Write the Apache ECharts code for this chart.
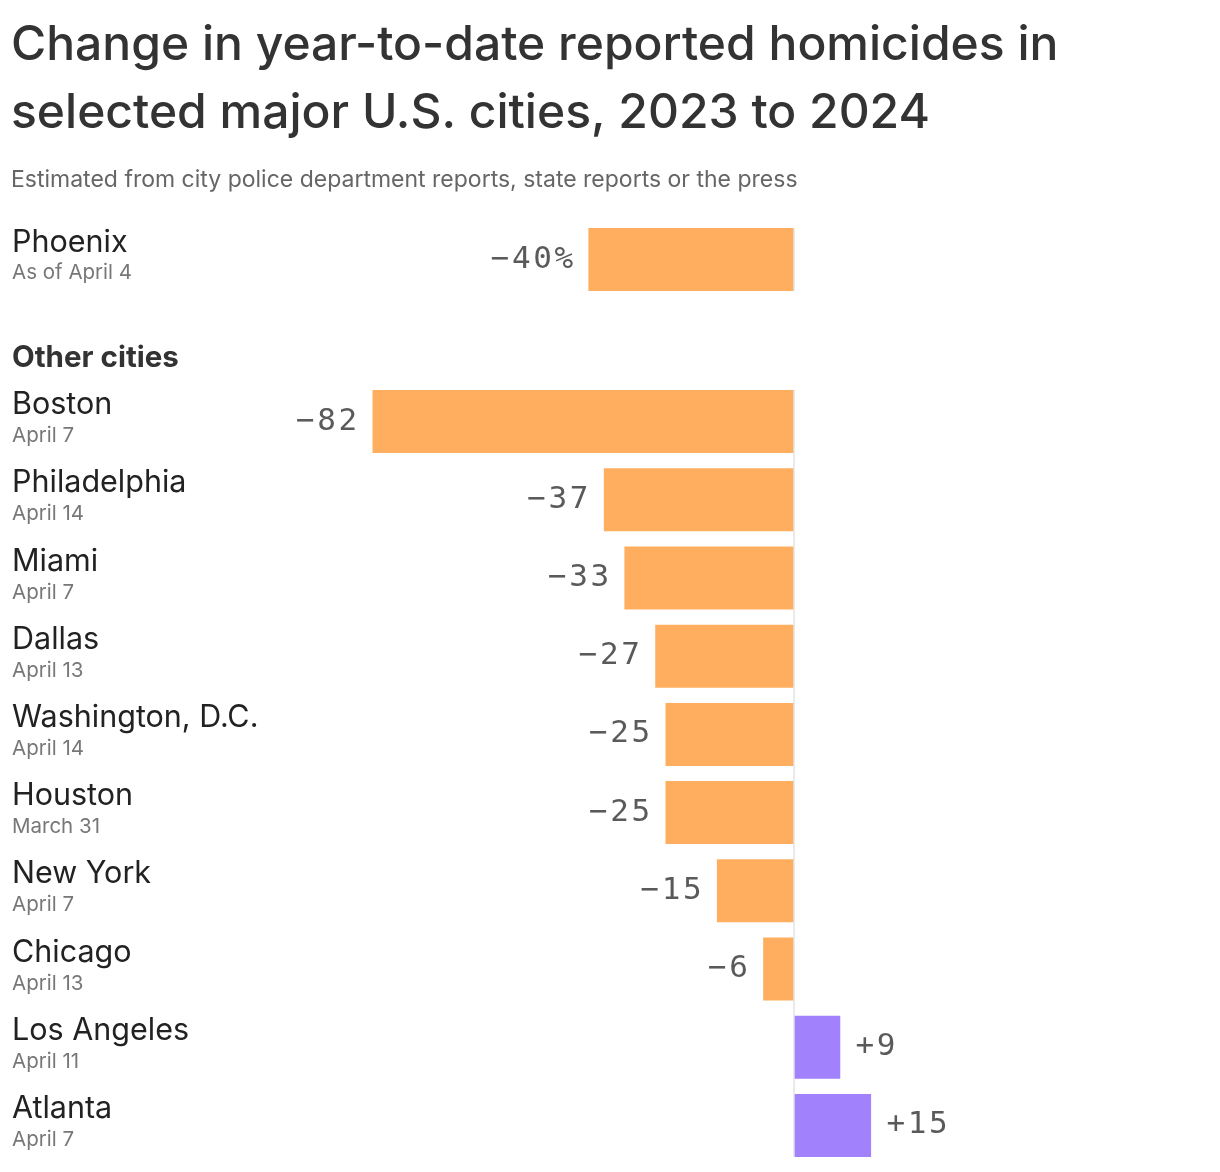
<!DOCTYPE html>
<html>
<head>
<meta charset="utf-8">
<script src="https://cdn.jsdelivr.net/npm/echarts@6/dist/echarts.min.js"></script>
<style>
html,body{margin:0;padding:0;background:#fff;}
#chart{width:1220px;height:1172px;}
</style>
</head>
<body>
<div id="chart"></div>
<script>
// ---- data ----
const titleText = 'Change in year-to-date reported homicides in\nselected major U.S. cities, 2023 to 2024';
const subtitleText = 'Estimated from city police department reports, state reports or the press';
const groupLabel = 'Other cities';

const phoenixCities = ['Phoenix'];
const phoenixDates = ['As of April 4'];
const phoenixValues = [-40];

const cities = ['Boston', 'Philadelphia', 'Miami', 'Dallas', 'Washington, D.C.', 'Houston', 'New York', 'Chicago', 'Los Angeles', 'Atlanta'];
const dates = ['April 7', 'April 14', 'April 7', 'April 13', 'April 14', 'March 31', 'April 7', 'April 13', 'April 11', 'April 7'];
const values = [-82, -37, -33, -27, -25, -25, -15, -6, 9, 15];

const xMin = -100, xMax = 50;

// ---- styles ----
const ORANGE = '#ffae5f';
const PURPLE = '#a281fc';
const FONT = 'Inter, "Noto Sans", sans-serif';
const MONO = '"DejaVu Sans Mono", "Liberation Mono", monospace';
const BAR_W = 63;

const chart = echarts.init(document.getElementById('chart'), null, {renderer: 'canvas'});

function fmt(v, pct) {
  const s = (v < 0 ? '\u2212' : '+') + Math.abs(v) + (pct ? '%' : '');
  // each character as its own rich token to give the tracked look
  return s.split('').map(ch => '{c|' + ch + '}').join('');
}

function makeData(vals, pct) {
  return vals.map(v => ({
    value: v,
    itemStyle: {color: v < 0 ? ORANGE : PURPLE},
    label: {
      show: true,
      position: v < 0 ? 'left' : 'right',
      distance: 14,
      formatter: fmt(v, pct),
      rich: {
        c: {color: '#5a5a5a', fontFamily: MONO, fontSize: 31, padding: [0, 1.3, 0, 1.3]}
      }
    }
  }));
}

function catLabels(names, ds) {
  return names.map((n, i) => n + '\n' + ds[i]);
}

function axisLabelCfg(nameLH) {
  return {
    align: 'left',
    margin: 268,
    formatter: function (val) {
      const parts = val.split('\n');
      return '{n|' + parts[0] + '}\n{d|' + parts[1] + '}';
    },
    rich: {
      n: {fontFamily: FONT, fontSize: 30.5, color: '#222', lineHeight: nameLH},
      d: {fontFamily: FONT, fontSize: 20.5, color: '#777', lineHeight: 33}
    }
  };
}

const option = {
  animation: false,
  backgroundColor: '#fff',
  graphic: [
    {
      type: 'text', left: 11, top: 12,
      style: {text: titleText, fontFamily: FONT, fontSize: 48, fontWeight: 500, fill: '#333', lineHeight: 68}
    },
    {
      type: 'text', left: 11, top: 169,
      style: {text: subtitleText, fontFamily: FONT, fontSize: 23, fill: '#666'}
    },
    {
      type: 'text', left: 12, top: 343,
      style: {text: groupLabel, fontFamily: FONT, fontSize: 29.5, fontWeight: 700, fill: '#333'}
    }
  ],
  grid: [
    {left: 280, width: 771, top: 220.5, height: 78},
    {left: 280, width: 771, top: 382.5, height: 782}
  ],
  xAxis: [
    {type: 'value', gridIndex: 0, min: xMin, max: xMax, show: false},
    {type: 'value', gridIndex: 1, min: xMin, max: xMax, show: false}
  ],
  yAxis: [
    {
      type: 'category', gridIndex: 0, inverse: true,
      data: catLabels(phoenixCities, phoenixDates),
      axisLine: {show: false}, axisTick: {show: false}, splitLine: {show: false},
      axisLabel: axisLabelCfg(26)
    },
    {
      type: 'category', gridIndex: 1, inverse: true,
      data: catLabels(cities, dates),
      axisLine: {show: false}, axisTick: {show: false}, splitLine: {show: false},
      axisLabel: axisLabelCfg(29)
    }
  ],
  series: [
    {
      type: 'bar', xAxisIndex: 0, yAxisIndex: 0, barWidth: BAR_W,
      data: makeData(phoenixValues, true)
    },
    {
      type: 'bar', xAxisIndex: 1, yAxisIndex: 1, barWidth: BAR_W,
      data: makeData(values, false)
    }
  ]
};

chart.setOption(option);

// zero reference line spanning the bars of each panel, positioned via the chart's own scales
function zeroLineFor(gridIdx, cats) {
  const top = chart.convertToPixel({xAxisIndex: gridIdx, yAxisIndex: gridIdx}, [0, cats[0]]);
  const bot = chart.convertToPixel({xAxisIndex: gridIdx, yAxisIndex: gridIdx}, [0, cats[cats.length - 1]]);
  return {
    type: 'line', z: 10, silent: true,
    shape: {x1: top[0], y1: top[1] - BAR_W / 2, x2: bot[0], y2: bot[1] + BAR_W / 2},
    style: {stroke: '#e3e3e3', lineWidth: 1.5}
  };
}
const g = option.graphic.slice();
g.push(zeroLineFor(0, catLabels(phoenixCities, phoenixDates)));
g.push(zeroLineFor(1, catLabels(cities, dates)));
chart.setOption({graphic: g});
</script>
</body>
</html>
